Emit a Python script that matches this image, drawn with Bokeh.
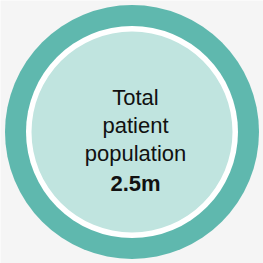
from bokeh.plotting import figure
from bokeh.models import Range1d
from bokeh.core.properties import value
from bokeh.embed import file_html
from bokeh.resources import INLINE

label_lines = ["Total", "patient", "population"]
total_value = ["2.5m"]

W = H = 263
p = figure(width=W, height=H, output_backend="svg", toolbar_location=None,
           x_range=Range1d(0, W), y_range=Range1d(0, H), min_border=0)
p.axis.visible = False
p.grid.visible = False
p.outline_line_color = None
p.background_fill_color = "#f5f5f5"
p.border_fill_color = "#f5f5f5"

cx, cy = 131.5, 131.5
p.circle(x=[cx], y=[cy], radius=127, fill_color="#5fb8ae", line_color=None)
p.circle(x=[cx], y=[cy], radius=106, fill_color="#ffffff", line_color=None)
p.circle(x=[cx], y=[cy], radius=100.5, fill_color="#c0e4df", line_color=None)

tx = 135
ys = [166, 138, 110]
p.text(x=[tx] * len(label_lines), y=ys, text=label_lines,
       text_font=value("Liberation Sans"), text_font_size="22px",
       text_align="center", text_baseline="alphabetic", text_color="#111111")
p.text(x=[tx], y=[80], text=total_value,
       text_font=value("Liberation Sans"), text_font_size="22px", text_font_style="bold",
       text_align="center", text_baseline="alphabetic", text_color="#111111")

open("out.html", "w").write(file_html(p, INLINE))
